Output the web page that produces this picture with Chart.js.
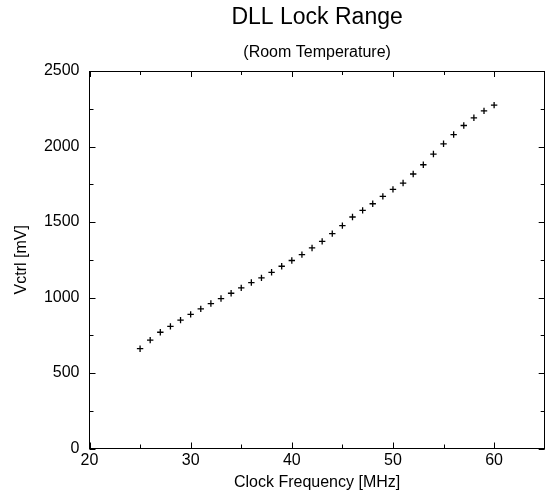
<!DOCTYPE html>
<html>
<head>
<meta charset="utf-8">
<script src="https://cdn.jsdelivr.net/npm/chart.js@4.4.1/dist/chart.umd.min.js"></script>
<style>
  html, body { margin: 0; padding: 0; background: #fff; overflow: hidden; }
  canvas { display: block; }
</style>
</head>
<body>
<canvas id="c" width="550" height="495"></canvas>
<script>
// ---- data ----
const freqMHz = [25, 26, 27, 28, 29, 30, 31, 32, 33, 34, 35, 36, 37, 38, 39, 40, 41, 42,
                 43, 44, 45, 46, 47, 48, 49, 50, 51, 52, 53, 54, 55, 56, 57, 58, 59, 60];
const vctrlMV = [661, 718, 770, 809, 850, 888, 925, 960, 993, 1028, 1064, 1099, 1130, 1167, 1207, 1245, 1284, 1328,
                 1372, 1423, 1476, 1533, 1577, 1621, 1670, 1716, 1758, 1818, 1879, 1950, 2018, 2079, 2139, 2190, 2236, 2274];
const xMajorTicks = [20, 30, 40, 50, 60];
const xMinorTicks = [25, 35, 45, 55];
const yMajorTicks = [0, 500, 1000, 1500, 2000, 2500];
const yMinorTicks = [250, 750, 1250, 1750, 2250];
const xRange = [20, 65];
const yRange = [0, 2500];
const titleText = 'DLL Lock Range';
const subtitleText = '(Room Temperature)';
const xTitle = 'Clock Frequency [MHz]';
const yTitle = 'Vctrl [mV]';

Chart.defaults.font.family = "'Liberation Sans', Arial, Helvetica, sans-serif";
Chart.defaults.color = '#000';

const frameTicks = {
  id: 'frameTicks',
  afterDatasetsDraw(chart) {
    const {ctx, chartArea: a, scales: {x, y}} = chart;
    ctx.save();
    ctx.strokeStyle = '#000';
    ctx.lineWidth = 1;
    ctx.beginPath();
    // top border
    ctx.moveTo(a.left, Math.round(a.top) + 0.5);
    ctx.lineTo(a.right, Math.round(a.top) + 0.5);
    // right border (falls just past the window edge)
    ctx.moveTo(Math.round(a.right) - 0.5, a.top);
    ctx.lineTo(Math.round(a.right) - 0.5, a.bottom);
    const xt = (vals, len) => vals.forEach(v => {
      const px = Math.round(x.getPixelForValue(v)) + 0.5;
      ctx.moveTo(px, a.bottom); ctx.lineTo(px, a.bottom - len);
      ctx.moveTo(px, a.top); ctx.lineTo(px, a.top + len);
    });
    const yt = (vals, len) => vals.forEach(v => {
      const py = Math.round(y.getPixelForValue(v)) + 0.5;
      ctx.moveTo(a.left, py); ctx.lineTo(a.left + len, py);
      ctx.moveTo(a.right, py); ctx.lineTo(a.right - len, py);
    });
    xt(xMajorTicks, 6); xt(xMinorTicks, 4);
    yt(yMajorTicks, 6); yt(yMinorTicks, 4);
    ctx.stroke();
    ctx.restore();
  }
};

new Chart(document.getElementById('c'), {
  type: 'scatter',
  data: {
    datasets: [{
      data: freqMHz.map((f, i) => ({x: f, y: vctrlMV[i]})),
      pointStyle: 'cross',
      pointRadius: 3.2,
      pointBorderWidth: 1.3,
      borderColor: '#000',
      backgroundColor: '#000',
      showLine: false
    }]
  },
  options: {
    responsive: false,
    animation: false,
    layout: { padding: { left: 0, right: 0, top: 0, bottom: 0 } },
    plugins: {
      legend: { display: false },
      tooltip: { enabled: false },
      title: {
        display: true, text: titleText, fullSize: false, color: '#000',
        font: { size: 23, weight: 'normal' },
        padding: { top: 3.5, bottom: 12.2 }
      },
      subtitle: {
        display: true, text: subtitleText, fullSize: false, color: '#000',
        font: { size: 16, weight: 'normal' },
        padding: { top: 0, bottom: 8.5 }
      }
    },
    scales: {
      x: {
        type: 'linear', min: xRange[0], max: xRange[1],
        grid: { display: false, drawTicks: false },
        border: { display: true, color: '#000', width: 1 },
        afterBuildTicks: s => { s.ticks = xMajorTicks.map(v => ({value: v})); },
        afterFit: s => { s.height = 46.5; s.paddingLeft = 0; s.paddingRight = 0; },
        ticks: { font: { size: 16 }, padding: 2, color: '#000', maxRotation: 0, autoSkip: false,
                 callback: v => String(v) },
        title: { display: true, text: xTitle, font: { size: 16 }, color: '#000', padding: { top: 4, bottom: 2.5 } }
      },
      y: {
        type: 'linear', min: yRange[0], max: yRange[1],
        grid: { display: false, drawTicks: false },
        border: { display: true, color: '#000', width: 1 },
        afterBuildTicks: s => { s.ticks = yMajorTicks.map(v => ({value: v})); },
        afterFit: s => { s.width = 89.5; },
        ticks: { font: { size: 16 }, padding: 10, color: '#000', autoSkip: false,
                 callback: v => String(v) },
        title: { display: true, text: yTitle, font: { size: 16 }, color: '#000', padding: { top: 11.5, bottom: 2 } }
      }
    }
  },
  plugins: [frameTicks]
});
</script>
</body>
</html>
